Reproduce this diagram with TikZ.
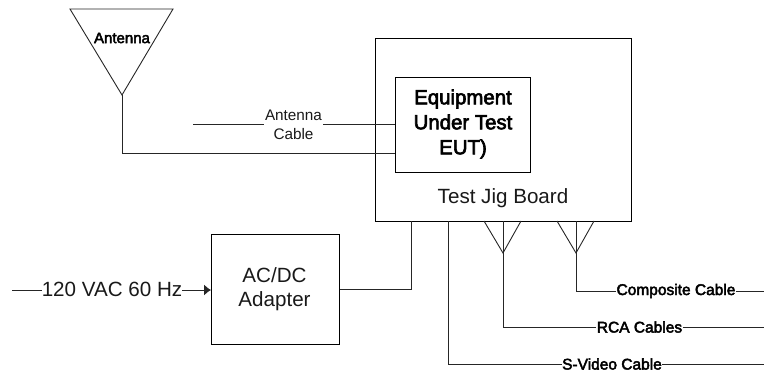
\documentclass[tikz,border=0pt]{standalone}
\usepackage{fontspec}
\setmainfont{Liberation Sans}
\newfontfamily\fakeb[FakeBold=3]{Liberation Sans}
\usetikzlibrary{arrows.meta}
\tikzset{x=1pt,y=-1pt,
  wire/.style={draw=black!85,line width=0.9pt},
  boxn/.style={draw=black,line width=0.9pt,fill=none,inner sep=0pt,anchor=north west},
  big/.style={font=\fontsize{20.6}{24}\selectfont,align=center,inner sep=0pt,fill=white,text=black!90},
  small/.style={font=\fontsize{15.3}{18.7}\selectfont,align=center,inner sep=1pt,fill=white,text=black!90},
  cablelab/.style={font=\fakeb\fontsize{15.5}{17}\selectfont,inner sep=0.5pt,fill=white,text=black},
  eutlab/.style={font=\fakeb\fontsize{20.4}{25}\selectfont,align=center,inner sep=0pt,text=black},
}
\begin{document}
\begin{tikzpicture}
\useasboundingbox (0,0) rectangle (764,372);
% boxes
\node[boxn,minimum width=256pt,minimum height=183pt] (jig) at (375,38) {};
\node[boxn,minimum width=135pt,minimum height=95pt] (eut) at (395,77) {};
\node[boxn,minimum width=128pt,minimum height=110pt] (adapter) at (211,234) {};
% antenna
\coordinate (antL) at (70,9);
\coordinate (antR) at (173,9);
\coordinate (antT) at (122,95);
\draw[wire] (antL) -- (antR) -- (antT) -- cycle;
\node[font=\fakeb\fontsize{15}{17}\selectfont,inner sep=0pt] (antlab) at (122,38) {Antenna};
% antenna feed
\coordinate (eutA) at (eut.west |- 0,153.5);
\draw[wire] (antT) |- (eutA);
\coordinate (cabS) at (193,124);
\coordinate (eutB) at (eut.west |- cabS);
\draw[wire] (cabS) -- (eutB);
\node[small] (cablab) at (293.5,124.5) {Antenna\\Cable};
% text in boxes
\node[eutlab] (eutlab) at (463,124) {Equipment\\Under Test\\EUT)};
\node[big] (jiglab) at (503,198) {Test Jig Board};
\node[big,fill=none] (adlab) at (274.5,289) {AC/DC\\Adapter};
% input
\coordinate (inS) at (12,290);
\coordinate (adIn) at (adapter.west |- inS);
\draw[wire,-{Latex[length=7pt,width=11pt]}] (inS) -- (adIn);
\node[big] (inlab) at (112,289) {120 VAC 60 Hz};
% adapter to jig
\coordinate (adOut) at (adapter.east |- 0,289);
\coordinate (jigP) at (411,221);
\draw[wire] (adOut) -| (jigP);
% S-video
\coordinate (sv0) at (448,221);
\coordinate (sv1) at (764,364);
\draw[wire] (sv0) |- (sv1);
\node[cablelab] (svlab) at (612,364) {S-Video Cable};
% RCA
\coordinate (rl) at (484,221);
\coordinate (rr) at (521,221);
\coordinate (rt) at (503,253);
\coordinate (rtop) at (503,221);
\coordinate (r1) at (764,327);
\draw[wire] (rl) -- (rt) -- (rr);
\draw[wire] (rtop) |- (r1);
\node[cablelab] (rlab) at (639.5,327) {RCA Cables};
% Composite
\coordinate (cl) at (557,221);
\coordinate (cr) at (594,221);
\coordinate (ct) at (576,253);
\coordinate (ctop) at (576,221);
\coordinate (c1) at (764,291);
\draw[wire] (cl) -- (ct) -- (cr);
\draw[wire] (ctop) |- (c1);
\node[cablelab] (clab) at (676,291) {Composite Cable};
\end{tikzpicture}
\end{document}
